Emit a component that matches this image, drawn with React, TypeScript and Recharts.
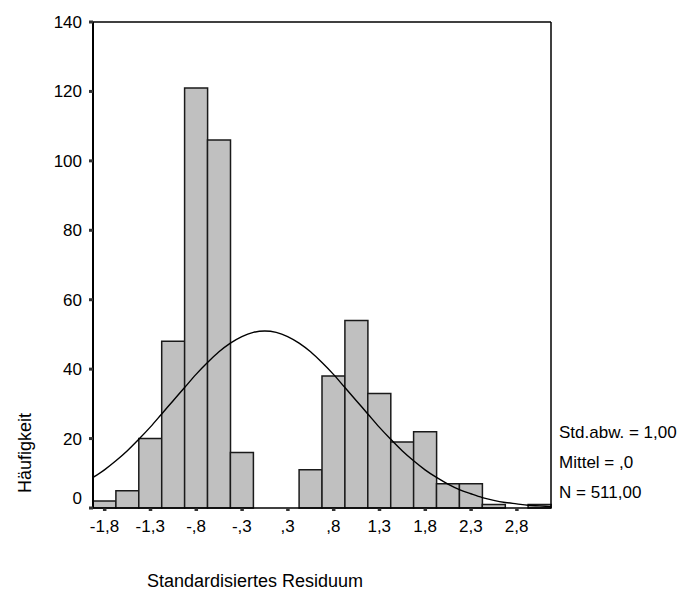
import React from 'react';
import { ComposedChart, Bar, Line, XAxis, YAxis, ReferenceLine } from 'recharts';

// histogram bins (width 0.25) and their counts
const binCenters = [-1.75, -1.5, -1.25, -1, -0.75, -0.5, -0.25, 0, 0.25, 0.5, 0.75, 1, 1.25, 1.5, 1.75, 2, 2.25, 2.5, 2.75, 3];
const counts = [2, 5, 20, 48, 121, 106, 16, 0, 0, 11, 38, 54, 33, 19, 22, 7, 7, 1, 0, 1];

// normal curve
const curveX = [
  -1.875, -1.75, -1.625, -1.5, -1.375, -1.25, -1.125, -1, -0.875, -0.75, -0.625, -0.5, -0.375, -0.25, -0.125, 0,
  0.125, 0.25, 0.375, 0.5, 0.625, 0.75, 0.875, 1, 1.125, 1.25, 1.375, 1.5, 1.625, 1.75, 1.875, 2,
  2.125, 2.25, 2.375, 2.5, 2.625, 2.75, 2.875, 3, 3.125,
];
const curveY = [
  8.8, 11.0, 13.6, 16.5, 19.8, 23.3, 27.1, 30.9, 34.7, 38.5, 41.9, 45.0, 47.5, 49.4, 50.6, 51.0,
  50.6, 49.4, 47.5, 45.0, 41.9, 38.5, 34.7, 30.9, 27.1, 23.3, 19.8, 16.5, 13.6, 11.0, 8.8, 6.9,
  5.3, 4.1, 3.0, 2.2, 1.6, 1.2, 0.8, 0.6, 0.4,
];

const xTicks = [-1.75, -1.25, -0.75, -0.25, 0.25, 0.75, 1.25, 1.75, 2.25, 2.75];
const xTickLabels = ['-1,8', '-1,3', '-,8', '-,3', ',3', ',8', '1,3', '1,8', '2,3', '2,8'];
const yTicks = [0, 20, 40, 60, 80, 100, 120, 140];

const stats = ['Std.abw. = 1,00', 'Mittel = ,0', 'N = 511,00'];

const barData = binCenters.map((x, i) => ({ x, count: counts[i] }));
const curveData = curveX.map((x, i) => ({ x, fit: curveY[i] }));

const FONT = '"Liberation Sans", Arial, sans-serif';
const MARGIN = { top: 22, right: 136, bottom: 54, left: 13 };

const XTick = (props: any) => {
  const { x, y, payload } = props;
  const idx = xTicks.indexOf(payload.value);
  return (
    <g>
      <rect x={x - 1.5} y={y + 0.5} width={3.5} height={2.5} fill="#333" />
      <text x={x} y={y + 24} textAnchor="middle" fontSize={17} fontFamily={FONT} fill="#000">
        {xTickLabels[idx]}
      </text>
    </g>
  );
};

const YTick = (props: any) => {
  const { x, y, payload } = props;
  const shift = payload.value === 0 ? -10 : 0;
  return (
    <g>
      <rect x={x - 4} y={y - 1.5} width={4} height={3} fill="#333" />
      <text x={x - 11} y={y + shift + 6} textAnchor="end" fontSize={17} fontFamily={FONT} fill="#000">
        {payload.value}
      </text>
    </g>
  );
};

export default function App() {
  return (
    <div style={{ position: 'absolute', left: 0, top: 0, width: 687, height: 592, background: '#fff' }}>
      <ComposedChart
        width={687}
        height={592}
        data={barData}
        barCategoryGap={0}
        barGap={0}
        margin={MARGIN}
      >
        <XAxis xAxisId="cat" dataKey="x" type="category" hide height={0} padding={{ left: 0, right: 0 }} />
        <XAxis
          xAxisId="num"
          dataKey="x"
          type="number"
          domain={[-1.875, 3.125]}
          allowDataOverflow
          ticks={xTicks}
          interval={0}
          height={30}
          tickLine={false}
          tickSize={0}
          tickMargin={0}
          axisLine={{ stroke: '#000', strokeWidth: 1.5 }}
          tick={<XTick />}
        />
        <YAxis
          type="number"
          domain={[0, 140]}
          ticks={yTicks}
          interval={0}
          width={80}
          tickLine={false}
          tickSize={0}
          tickMargin={0}
          axisLine={{ stroke: '#000', strokeWidth: 2 }}
          tick={<YTick />}
        />
        <ReferenceLine xAxisId="num" y={140} stroke="#000" strokeWidth={1.5} ifOverflow="visible" />
        <ReferenceLine xAxisId="num" x={3.125} stroke="#000" strokeWidth={1.5} ifOverflow="visible" />
        <Bar
          xAxisId="cat"
          dataKey="count"
          fill="#c0c0c0"
          stroke="#1a1a1a"
          strokeWidth={1.5}
          isAnimationActive={false}
        />
      </ComposedChart>
      {/* fitted normal curve, drawn in an overlay so it sits above the bars */}
      <div style={{ position: 'absolute', left: 0, top: 0 }}>
        <ComposedChart width={687} height={592} data={curveData} margin={MARGIN}>
          <XAxis
            dataKey="x"
            type="number"
            domain={[-1.875, 3.125]}
            allowDataOverflow
            height={30}
            tick={false}
            axisLine={false}
            tickLine={false}
          />
          <YAxis
            type="number"
            domain={[0, 140]}
            width={80}
            tick={false}
            axisLine={false}
            tickLine={false}
          />
          <Line
            dataKey="fit"
            type="monotone"
            stroke="#000"
            strokeWidth={1.4}
            dot={false}
            isAnimationActive={false}
          />
        </ComposedChart>
      </div>
      <svg
        width={687}
        height={592}
        style={{ position: 'absolute', left: 0, top: 0, pointerEvents: 'none' }}
      >
        {stats.map((s, i) => (
          <text key={s} x={559} y={438 + i * 30} fontSize={17} fontFamily={FONT} fill="#000">
            {s}
          </text>
        ))}
        <text x={147} y={587} fontSize={18} fontFamily={FONT} fill="#000">
          Standardisiertes Residuum
        </text>
        <text
          x={0}
          y={0}
          transform="translate(31, 453) rotate(-90)"
          textAnchor="middle"
          fontSize={18}
          fontFamily={FONT}
          fill="#000"
        >
          Häufigkeit
        </text>
      </svg>
    </div>
  );
}
